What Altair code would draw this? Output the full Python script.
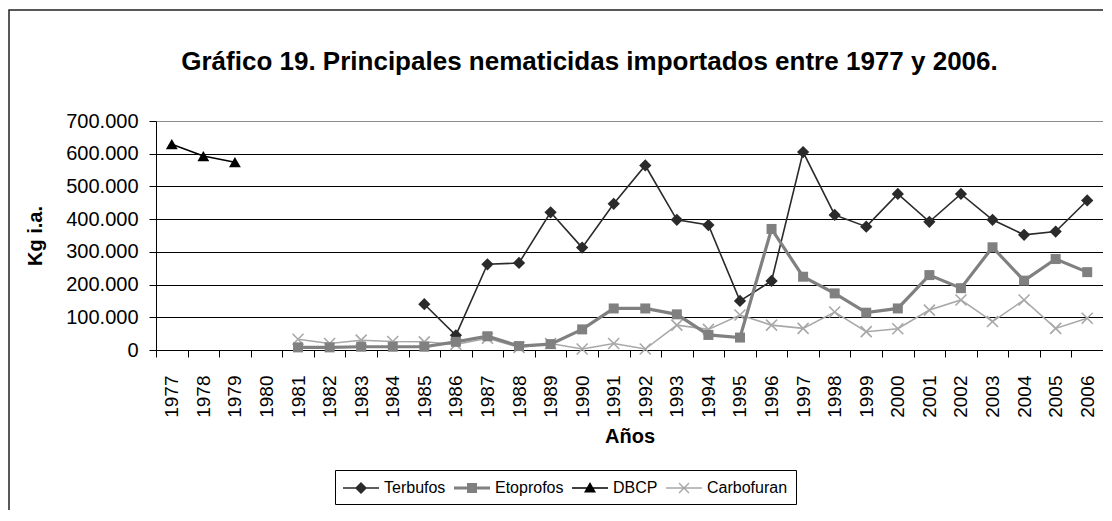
import altair as alt
import pandas as pd

years = list(range(1977, 2007))
series_names = ["Terbufos", "Etoprofos", "DBCP", "Carbofuran"]

terbufos = [None] * 8 + [140000, 45000, 262000, 266000, 421000, 313000, 447000, 564000,
                         398000, 382000, 150000, 211000, 605000, 413000, 377000, 477000,
                         392000, 477000, 398000, 352000, 362000, 457000]
etoprofos = [None] * 4 + [8000, 8000, 10000, 10000, 10000, 25000, 42000, 12000, 18000,
                          63000, 127000, 127000, 109000, 46000, 38000, 370000, 224000,
                          173000, 114000, 127000, 229000, 189000, 314000, 212000, 278000, 238000]
dbcp = [629000, 593000, 574000] + [None] * 27
carbofuran = [None] * 4 + [33000, 20000, 30000, 26000, 25000, 17000, 36000, 8000, 20000,
                           3000, 20000, 3000, 76000, 63000, 107000, 76000, 66000, 116000,
                           56000, 65000, 122000, 153000, 87000, 153000, 66000, 97000]

y_ticks = [0, 100000, 200000, 300000, 400000, 500000, 600000, 700000]

def frame(values, name):
    rows = [{"year": y, "value": v, "series": name} for y, v in zip(years, values) if v is not None]
    return pd.DataFrame(rows)

FONT = "Liberation Sans"

x_enc = alt.X(
    "year:O",
    scale=alt.Scale(type="band", domain=years, paddingInner=0, paddingOuter=0),
    axis=alt.Axis(
        title="Años", titleFont=FONT, titleFontSize=20, titleFontWeight="bold",
        titleColor="black", titlePadding=9,
        labelAngle=-90, labelAlign="right", labelBaseline="middle",
        labelFont=FONT, labelFontSize=19, labelColor="black", labelPadding=18,
        tickBand="extent", tickColor="black", tickSize=7, tickWidth=1,
        domainColor="black", domainWidth=1, grid=False,
    ),
)
y_enc = alt.Y(
    "value:Q",
    scale=alt.Scale(domain=[0, 700000], nice=False),
    axis=alt.Axis(
        values=y_ticks,
        labelExpr="replace(format(datum.value, ','), ',', '.')",
        title="Kg i.a.", titleFont=FONT, titleFontSize=20, titleFontWeight="bold",
        titleColor="black", titlePadding=20,
        labelFont=FONT, labelFontSize=20, labelColor="black", labelPadding=11,
        tickColor="black", tickSize=7, tickWidth=1,
        domainColor="black", domainWidth=1,
        grid=True,
        gridColor=alt.condition("datum.value == 700000", alt.value("#8c8c8c"), alt.value("black")),
        gridWidth=1.2,
    ),
)

styles = {
    "Terbufos": dict(color="#2a2a2a", width=1.6, shape="diamond", size=150, filled=True),
    "Etoprofos": dict(color="#808080", width=3.2, shape="square", size=100, filled=True),
    "DBCP": dict(color="#000000", width=1.6, shape="triangle-up", size=140, filled=True),
    "Carbofuran": dict(color="#a8a8a8", width=1.6, shape="M-1,-1L1,1M-1,1L1,-1", size=121, filled=False),
}
data_map = {
    "Terbufos": terbufos, "Etoprofos": etoprofos, "DBCP": dbcp, "Carbofuran": carbofuran,
}

layers = []
for name in ["Carbofuran", "Terbufos", "Etoprofos", "DBCP"]:
    st = styles[name]
    df = frame(data_map[name], name)
    base = alt.Chart(df)
    line = base.mark_line(color=st["color"], strokeWidth=st["width"]).encode(x=x_enc, y=y_enc)
    if st["filled"]:
        pts = base.mark_point(filled=True, shape=st["shape"], size=st["size"], color=st["color"],
                              opacity=1, strokeWidth=0).encode(x=x_enc, y=y_enc)
    else:
        pts = base.mark_point(filled=False, shape=st["shape"], size=st["size"], color=st["color"],
                              opacity=1, strokeWidth=1.6).encode(x=x_enc, y=y_enc)
    layers += [line, pts]

# legend symbols: a horizontal line plus the marker, drawn as filled paths
# (unit = 10 px; the symbol runs from x=-1 to x=2.6, marker centred on x=0.8)
legend_paths = [
    "M-1,-0.075H2.6V0.075H-1Z M0.8,-0.6L1.4,0L0.8,0.6L0.2,0Z",
    "M-1,-0.15H2.6V0.15H-1Z M0.3,-0.5H1.3V0.5H0.3Z",
    "M-1,-0.075H2.6V0.075H-1Z M0.8,-0.6L1.4,0.45L0.2,0.45Z",
    "M-1,-0.075H2.6V0.075H-1Z M0.25,-0.45L0.35,-0.55L1.35,0.45L1.25,0.55Z "
    "M1.25,-0.55L1.35,-0.45L0.35,0.55L0.25,0.45Z",
]
legend_colors = ["#2a2a2a", "#808080", "#000000", "#a8a8a8"]

legend_props = dict(
    title=None, orient="none", legendX=179, legendY=349, direction="horizontal",
    labelFont=FONT, labelFontSize=16, labelColor="black", labelOffset=21,
    symbolSize=400, symbolStrokeWidth=0, symbolOpacity=1,
    columnPadding=8, padding=8, strokeColor="black", fillColor="white",
)

legend_df = pd.DataFrame({"series": series_names, "year": [years[0]] * 4, "value": [0] * 4})
legend_layer = alt.Chart(legend_df).transform_filter("false").mark_point(
    filled=True, size=400, opacity=1
).encode(
    x=x_enc, y=y_enc,
    fill=alt.Fill("series:N", scale=alt.Scale(domain=series_names, range=legend_colors),
                  legend=alt.Legend(**legend_props)),
    shape=alt.Shape("series:N", scale=alt.Scale(domain=series_names, range=legend_paths),
                    legend=alt.Legend(**legend_props)),
)

border = alt.Chart(pd.DataFrame({"a": [0]})).mark_rect(
    fill=None, stroke="#222222", strokeWidth=1.5
).encode(
    x=alt.value(-147), x2=alt.value(1000), y=alt.value(-111), y2=alt.value(500)
)

chart = alt.layer(border, *layers, legend_layer).properties(
    width=947,
    height=229,
    title=alt.TitleParams(
        "Gráfico 19. Principales nematicidas importados entre 1977 y 2006.",
        font=FONT, fontSize=26, fontWeight="bold", color="black",
        anchor="middle", dx=-40, offset=-66,
    ),
    autosize=alt.AutoSizeParams(type="none"),
    padding={"left": 148, "top": 113, "right": 0, "bottom": 160},
).configure_view(
    stroke="#8c8c8c", strokeWidth=1.5
).configure(background="white")

chart.save("out.html", embed_options={"renderer": "svg", "actions": False})
